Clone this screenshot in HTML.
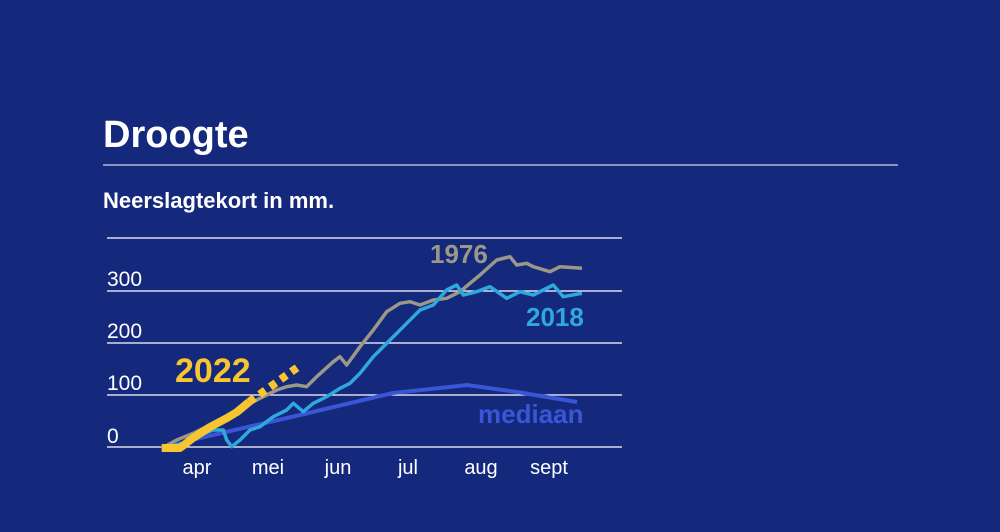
<!DOCTYPE html>
<html><head><meta charset="utf-8"><style>
html,body{margin:0;padding:0;background:#14287c;}
svg{display:block;font-family:"Liberation Sans",sans-serif;}
</style></head><body>
<svg width="1000" height="532" viewBox="0 0 1000 532">
<rect width="1000" height="532" fill="#14287c"/>
<text x="103" y="147" fill="#fff" font-size="38" font-weight="bold">Droogte</text>
<line x1="103" y1="165" x2="898" y2="165" stroke="#fff" stroke-width="1"/>
<text x="103" y="208" fill="#fff" font-size="22" font-weight="bold">Neerslagtekort in mm.</text>
<g stroke="#fff" stroke-width="1.3">
<line x1="107" y1="238" x2="622" y2="238"/>
<line x1="107" y1="291" x2="622" y2="291"/>
<line x1="107" y1="343" x2="622" y2="343"/>
<line x1="107" y1="395" x2="622" y2="395"/>
<line x1="107" y1="447" x2="622" y2="447"/>
</g>
<g fill="#fff" font-size="21">
<text x="107" y="286">300</text>
<text x="107" y="338">200</text>
<text x="107" y="390">100</text>
<text x="107" y="443">0</text>
</g>
<g fill="#fff" font-size="20" text-anchor="middle">
<text x="197" y="474">apr</text>
<text x="268" y="474">mei</text>
<text x="338" y="474">jun</text>
<text x="408" y="474">jul</text>
<text x="481" y="474">aug</text>
<text x="549" y="474">sept</text>
</g>
<polyline fill="none" stroke="#3a55d6" stroke-width="4" stroke-linejoin="round" points="161.7,448.3 200,438 300,415 393,393 440,388 467,385 517,392 577,402"/>
<polyline fill="none" stroke="#9c9888" stroke-width="3.5" stroke-linejoin="round" points="161.7,448.3 176.7,440 193.3,433.3 210,425 226.7,416.7 243.3,406.7 260,398.3 276.7,390 286.7,386.7 296.7,385 306.7,386.7 316.7,376.7 333.3,361.7 340,356.7 346.7,365 360,346.7 373.3,330 386.7,311.7 400,303.3 410,301.7 420,305 433.3,300 446.7,298.3 460,291.7 480,275 496.7,260 510,256.7 516.7,265 526.7,263.3 533.3,266.7 550,271.7 560,266.7 582,268.3"/>
<polyline fill="none" stroke="#2fa8dc" stroke-width="3.5" stroke-linejoin="round" points="161.7,448.3 183.3,443.3 200,435 213.3,430 223.3,430 226.7,440 231.7,446.7 240,440 250,430 260,426.7 273.3,416.7 286.7,410 293.3,403.3 303.3,411.7 313.3,403.3 326.7,396.7 340,388.3 350,383.3 360,373.3 373.3,356.7 390,340 406.7,323.3 420,310 433.3,305 446.7,290 456.7,285 463.3,295 476.7,291.7 490,286.7 506.7,298.3 520,291.7 533.3,295 553.3,285 563.3,296.7 582,293.3"/>
<polyline fill="none" stroke="#f7c531" stroke-width="8" stroke-linejoin="round" points="161.7,448 180,448 193,438 210,427 227,418 237,412 249,402"/>
<line x1="249" y1="402" x2="298" y2="367" stroke="#f7c531" stroke-width="8" stroke-dasharray="7,6"/>
<text x="430" y="263" fill="#9c9888" font-size="26" font-weight="bold">1976</text>
<text x="526" y="326" fill="#2fa8dc" font-size="26" font-weight="bold">2018</text>
<text x="478" y="423" fill="#3a55d6" font-size="26" font-weight="bold">mediaan</text>
<text x="175" y="382" fill="#f7c531" font-size="34" font-weight="bold">2022</text>
</svg>
</body></html>
